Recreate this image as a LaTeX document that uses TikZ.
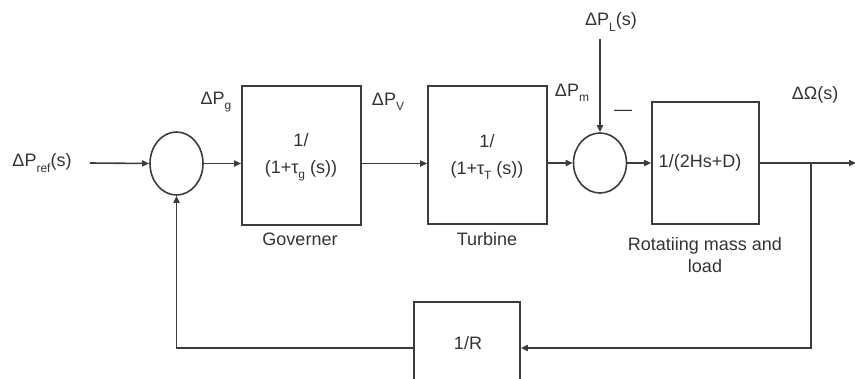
\documentclass[tikz,border=0pt]{standalone}
\usepackage{fontspec}
\setmainfont{Liberation Sans}
\usetikzlibrary{arrows.meta,shapes.geometric}
\definecolor{ln}{HTML}{3C3C3C}
\definecolor{tx}{HTML}{333333}
\newcommand\sbs[1]{\raisebox{-0.3em}{\fontsize{12}{12}\selectfont #1}}
\begin{document}
\begin{tikzpicture}[x=1pt,y=-1pt,
  every node/.style={text=tx,font=\fontsize{18}{22}\selectfont},
  blk/.style={draw=ln,line width=1.6pt,rectangle,inner sep=0pt},
  sumj/.style={draw=ln,line width=1.6pt,ellipse,inner sep=0pt},
  wire/.style={draw=ln,line width=1.6pt},
  arr/.style={wire,-{Triangle[length=7pt,width=6pt]}},
  lbl/.style={inner sep=0pt}]
\useasboundingbox (0,0) rectangle (855,378);
% blocks
\node[sumj,minimum width=53pt,minimum height=63pt] (s1) at (176.5,163.5) {};
\node[blk,minimum width=119pt,minimum height=139pt] (gov) at (301.5,155.5) {};
\node[blk,minimum width=119pt,minimum height=138pt] (turb) at (487.5,155) {};
\node[sumj,minimum width=53pt,minimum height=60pt] (s2) at (600,163) {};
\node[blk,minimum width=107pt,minimum height=122pt] (rot) at (705.5,163) {};
\node[blk,minimum width=106pt,minimum height=92pt] (rb) at (467,348) {};
% block texts
\node[lbl,align=center] (govt) at (301,157) {1/\\[5pt](1+τ\sbs{g} (s))};
\node[lbl,align=center] (turbt) at (487,157) {1/\\[5pt](1+τ\sbs{T} (s))};
\node[lbl] (rott) at (700,163) {1/(2Hs+D)};
\node[lbl] (rbt) at (468,343) {1/R};
% captions
\node[lbl] (govc) at (300,239) {Governer};
\node[lbl] (turbc) at (487,239) {Turbine};
\node[lbl,align=center] (rotc) at (705,255) {Rotatiing mass and\\load};
% signal labels
\node[lbl] (lref) at (42,163) {ΔP\sbs{ref}(s)};
\node[lbl] (lg) at (216,102) {ΔP\sbs{g}};
\node[lbl] (lv) at (388,102) {ΔP\sbs{V}};
\node[lbl] (lm) at (572,93) {ΔP\sbs{m}};
\node[lbl] (lminus) at (623,113) {—};
\node[lbl] (lL) at (611,22) {ΔP\sbs{L}(s)};
\node[lbl] (lo) at (815,95) {ΔΩ(s)};
% coordinates
\coordinate (in) at (90,163);
\coordinate (dist) at (600,39);
\coordinate (out) at (856,163);
\coordinate (br) at (811,163);
\coordinate (brd) at (811,348);
\coordinate (fbl) at (176.5,348);
% connectors
\draw[arr] (in) -- (s1.west);
\draw[arr] (s1.east) -- (gov.west |- s1.east);
\draw[arr] (gov.east |- s1.east) -- (turb.west |- s1.east);
\draw[arr] (turb.east |- s2.west) -- (s2.west);
\draw[arr] (s2.east) -- (rot.west);
\draw[arr] (rot.east) -- (out);
\draw[arr] (dist) -- (s2.north);
\draw[arr] (br) -- (brd) -- (rb.east);
\draw[arr] (rb.west) -- (fbl) -- (s1.south);
\end{tikzpicture}
\end{document}
